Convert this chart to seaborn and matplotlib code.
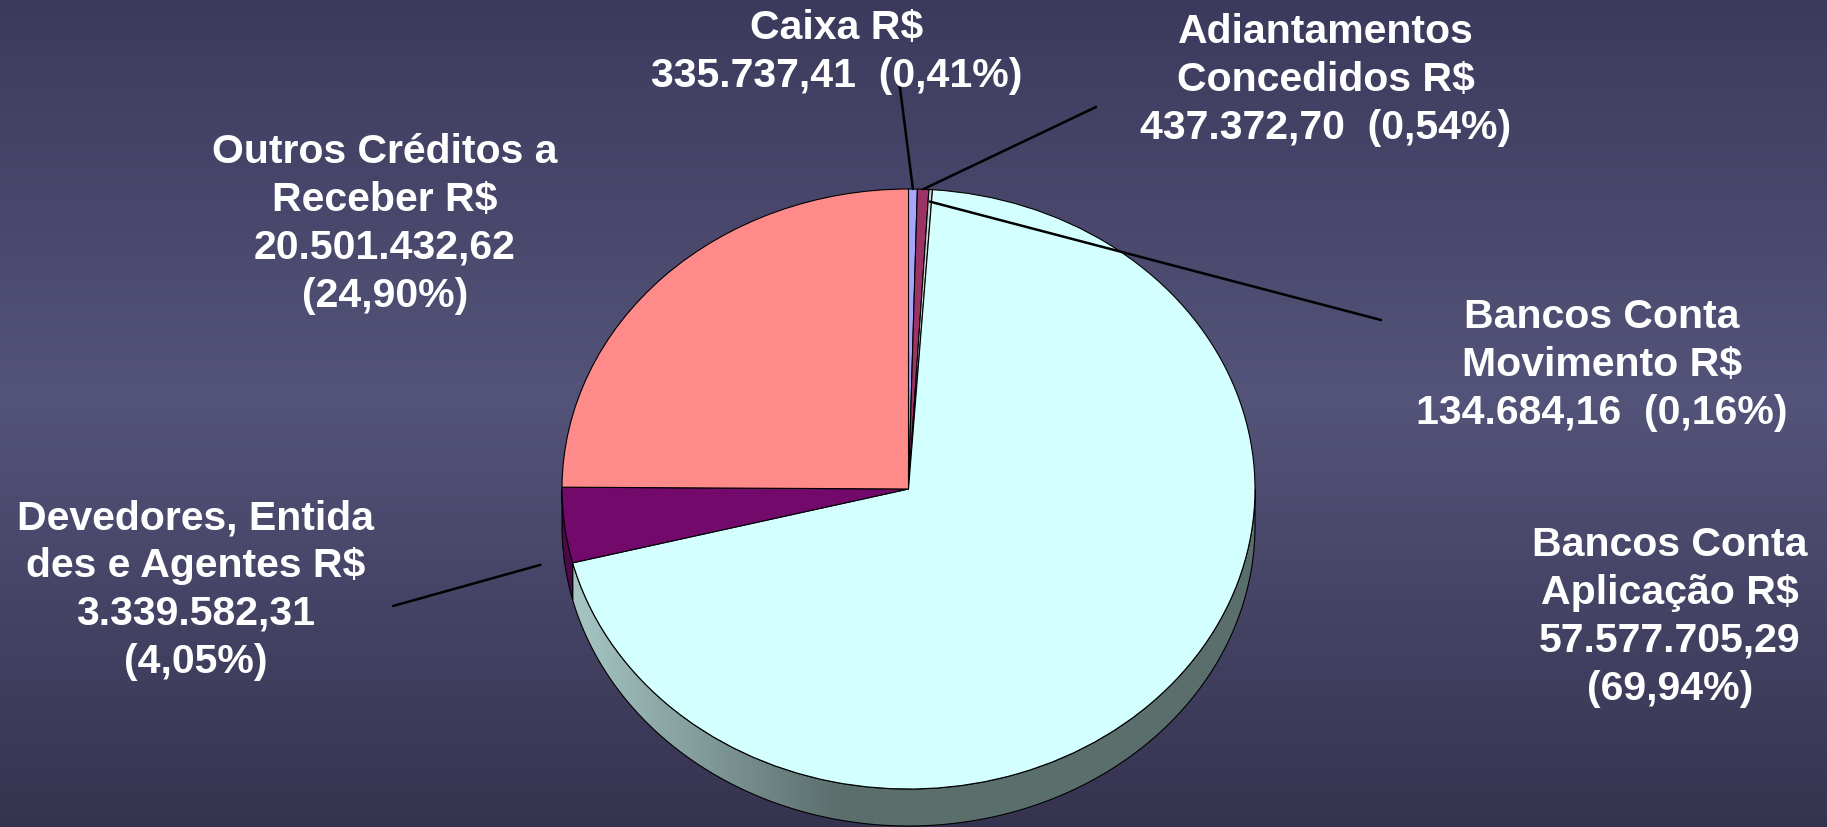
import numpy as np
import matplotlib
matplotlib.use("Agg")
import matplotlib.pyplot as plt
from matplotlib.patches import Polygon
from matplotlib.colors import to_rgb
import seaborn as sns

# dados do grafico (sentido horario a partir do topo)
categorias = ["Caixa", "Adiantamentos Concedidos", "Bancos Conta Movimento",
              "Bancos Conta Aplicação", "Devedores, Entidades e Agentes",
              "Outros Créditos a Receber"]
valores = [335737.41, 437372.70, 134684.16, 57577705.29, 3339582.31, 20501432.62]
percentuais = [0.41, 0.54, 0.16, 69.94, 4.05, 24.90]
rotulos = ["Caixa R$", "Adiantamentos\nConcedidos R$", "Bancos Conta\nMovimento R$",
           "Bancos Conta\nAplicação R$", "Devedores, Entida\ndes e Agentes R$",
           "Outros Créditos a\nReceber R$"]
mesma_linha = [True, True, True, False, False, False]

cores = ["#a6a6ff", "#9c3366", "#c8d4d4", "#d4ffff", "#730a6b", "#ff8a8a"]
cores_lado = ["#6e6eaa", "#66203f", "#8a9696", None, "#4e0749", "#a85a5a"]

# posicao dos rotulos (pixels) e ponta das linhas de chamada
pos_rotulos = [(837, 52), (1326, 80), (1602, 365), (1670, 617), (196, 590), (385, 224)]
pontas = [(899, 80), (1096, 107), (1381, 320), None, (393, 606), None]

W, H = 1827, 827
CX, CY, RX, RY = 908.5, 489, 346.5, 300
prof = 37 / RY  # espessura do "3D"


def px(x, y):
    return (x - CX) / RX, (CY - y) / RY


def fmt_br(v):
    return f"{v:,.2f}".replace(",", "X").replace(".", ",").replace("X", ".")


sns.set_theme(style="white")
plt.rcParams['font.family'] = ['Liberation Sans', 'DejaVu Sans']

fig = plt.figure(figsize=(W / 100, H / 100), dpi=100)
ax = fig.add_axes([0, 0, 1, 1])
xlim = (-CX / RX, (W - CX) / RX)
ylim = ((CY - H) / RY, CY / RY)

# fundo em degrade vertical
t = np.linspace(0, 1, 400)
stops = [0, 0.48, 1]
c_fundo = np.array([to_rgb("#3c3a5c"), to_rgb("#545379"), to_rgb("#363350")])
grad = np.stack([np.interp(t, stops, c_fundo[:, k]) for k in range(3)], axis=1)
ax.imshow(grad[:, None, :], extent=(xlim[0], xlim[1], ylim[0], ylim[1]),
          aspect='auto', zorder=0)

wedges, _ = ax.pie(valores, colors=cores, startangle=90, counterclock=False,
                   wedgeprops=dict(edgecolor='black', linewidth=0.8))
for w in wedges:
    w.set_zorder(3)

# lateral da pizza (metade de baixo)
for i, w in enumerate(wedges):
    for s in (-360, 0, 360):
        a = max(w.theta1 + s, -180)
        b = min(w.theta2 + s, 0)
        if b - a <= 0.01:
            continue
        ang = np.radians(np.linspace(a, b, 200))
        topo = np.column_stack([np.cos(ang), np.sin(ang)])
        base = np.column_stack([np.cos(ang), np.sin(ang) - prof])[::-1]
        pts = np.vstack([topo, base])
        if cores_lado[i] is None:
            poly = Polygon(pts, closed=True, facecolor='none', edgecolor='black',
                           linewidth=0.8, zorder=2)
            ax.add_patch(poly)
            xs = np.linspace(-1, 1, 300)
            ramp = np.clip((xs + 0.97) / 0.77, 0, 1)
            c1, c2 = np.array(to_rgb("#a6c6c4")), np.array(to_rgb("#5a6e6c"))
            img = c1[None, :] * (1 - ramp[:, None]) + c2[None, :] * ramp[:, None]
            im = ax.imshow(img[None, :, :], extent=(-1, 1, -1 - prof, 0),
                           aspect='auto', zorder=1.5)
            im.set_clip_path(poly)
        else:
            ax.add_patch(Polygon(pts, closed=True, facecolor=cores_lado[i],
                                 edgecolor='black', linewidth=0.8, zorder=2))

# rotulos
for i, w in enumerate(wedges):
    sep = "  " if mesma_linha[i] else "\n"
    pct = f"{percentuais[i]:.2f}".replace(".", ",")
    texto = f"{rotulos[i]}\n{fmt_br(valores[i])}{sep}({pct}%)"
    x, y = px(*pos_rotulos[i])
    ax.text(x, y, texto, ha='center', va='center', multialignment='center',
            color='white', fontsize=29.5, fontweight='bold', linespacing=1.33, zorder=5)
    if pontas[i] is not None:
        meio = np.radians((w.theta1 + w.theta2) / 2)
        r = 1.0 if i != 4 else 1.07
        dy = 0 if i != 4 else -prof
        if i == 2:
            r = 0.96
        ax.plot([r * np.cos(meio), px(*pontas[i])[0]],
                [r * np.sin(meio) + dy, px(*pontas[i])[1]],
                color='black', linewidth=1.8, zorder=4)

ax.set_aspect('auto')
ax.set_xlim(*xlim)
ax.set_ylim(*ylim)
ax.axis('off')

fig.savefig("out.png", dpi=100)
